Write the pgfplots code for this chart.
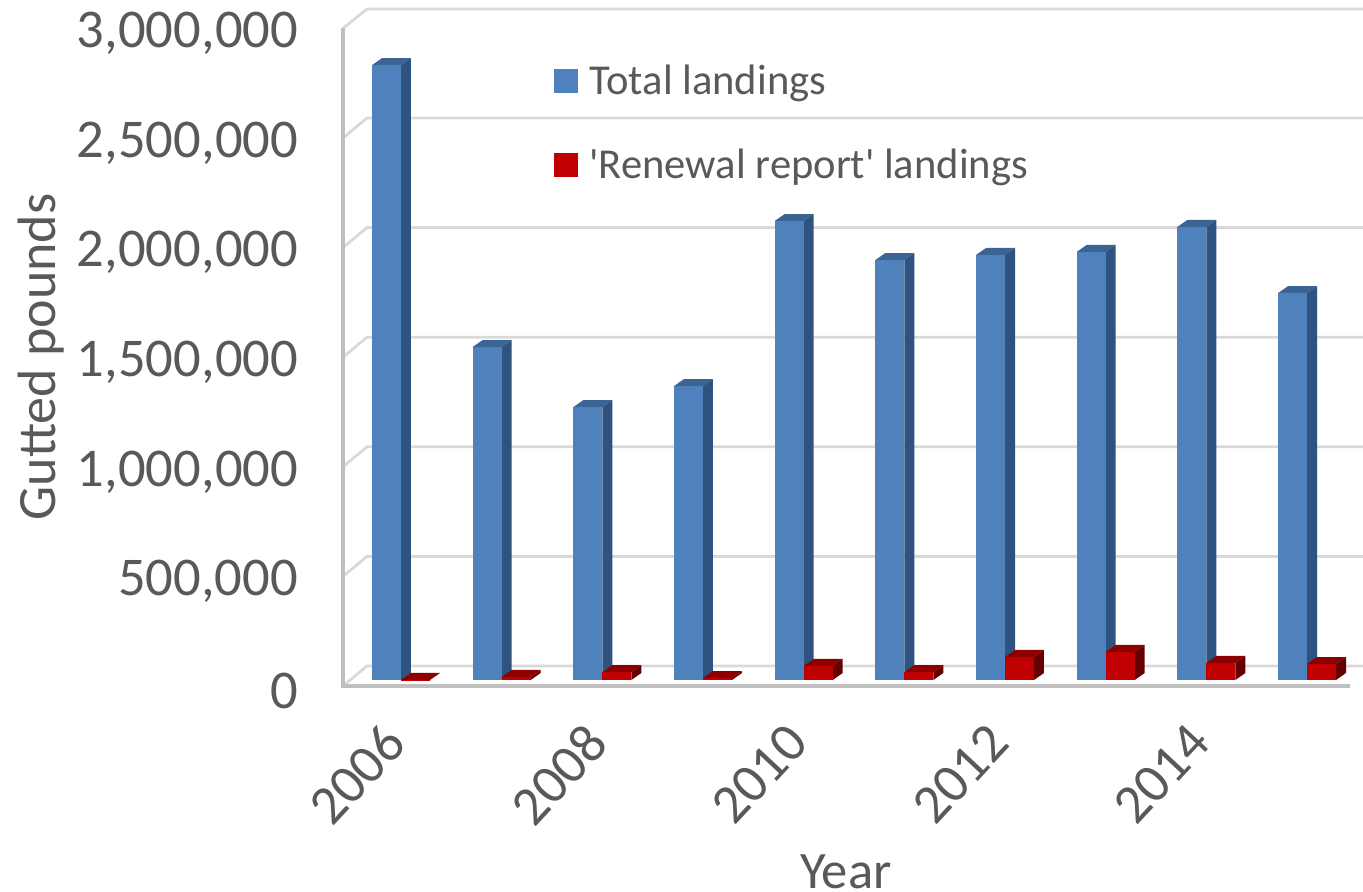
\documentclass[border=0pt]{standalone}
\usepackage{pgfplots}
\usepackage{pgfplotstable}
\usepackage{fontspec}
\setmainfont{Carlito}
\pgfplotsset{compat=1.18}

\definecolor{txt}{HTML}{595959}
\definecolor{wall}{HTML}{D9D9D9}
\definecolor{floorline}{HTML}{BFBFBF}
\definecolor{bluefront}{HTML}{4F81BD}
\definecolor{blueside}{HTML}{2F5380}
\definecolor{bluetop}{HTML}{3B6495}
\definecolor{redfront}{HTML}{C00000}
\definecolor{redside}{HTML}{650000}
\definecolor{redtop}{HTML}{8E0000}

% corners of the box faces: a = across bar, b = up bar, d = into depth
\pgfplotstableread{
a b d
0 0 0
1 0 0
1 1 0
0 1 0
}\frontface
\pgfplotstableread{
a b d
1 0 0
1 1 0
1 1 1
1 0 1
}\sideface
\pgfplotstableread{
a b d
0 1 0
1 1 0
1 1 1
0 1 1
}\topface

\newcommand\barw{0.288}
\newcommand\depx{0.0993}
\newcommand\depy{31934}

% left edge, value, colour prefix
\newcommand\drawbox[3]{%
  \addplot[fill=#3top,draw=none,forget plot] table[x expr=#1+\thisrow{a}*\barw+\thisrow{d}*\depx, y expr=#2*\thisrow{b}+\thisrow{d}*\depy] {\topface};
  \addplot[fill=#3side,draw=none,forget plot] table[x expr=#1+\thisrow{a}*\barw+\thisrow{d}*\depx, y expr=#2*\thisrow{b}+\thisrow{d}*\depy] {\sideface};
  \addplot[fill=#3front,draw=none,forget plot] table[x expr=#1+\thisrow{a}*\barw+\thisrow{d}*\depx, y expr=#2*\thisrow{b}+\thisrow{d}*\depy] {\frontface};
}
% year, total landings, renewal report landings
\newcommand\landings[3]{%
  \drawbox{#1-\barw}{#2}{blue}
  \drawbox{#1}{#3}{red}
}

\begin{document}
\begin{tikzpicture}
\useasboundingbox (0,0) rectangle (681.5pt,445.5pt);
\begin{axis}[
    at={(171.5pt,102.5pt)},
    anchor=south west,
    scale only axis,
    width=510pt,
    height=338.5pt,
    xmin=2005.424, xmax=2015.556,
    ymin=-27372, ymax=3061131,
    clip=false,
    axis line style={draw=none},
    major tick length=0pt,
    xtick={2006,2008,2010,2012,2014},
    xticklabels={2006,2008,2010,2012,2014},
    ytick={-27372,472628,972628,1472628,1972628,2472628,2972628},
    yticklabels={0,{500,000},{1,000,000},{1,500,000},{2,000,000},{2,500,000},{3,000,000}},
    tick label style={text=txt},
    yticklabel style={font=\fontsize{27.3}{27.3}\selectfont,anchor=east,xshift=-19pt,yshift=-2.5pt},
    xticklabel style={font=\fontsize{27.5}{27.5}\selectfont,xshift=-10pt,yshift=-12.5pt,rotate=47,anchor=north east},
    xlabel={Year},
    ylabel={Gutted pounds},
    label style={text=txt},
    xlabel style={font=\fontsize{26.3}{26.3}\selectfont,at={(axis description cs:0.493,-0.275)},anchor=center},
    ylabel style={font=\fontsize{27}{27}\selectfont,at={(axis description cs:-0.296,0.486)},anchor=center},
    legend style={at={(axis description cs:0.206,0.924)},anchor=north west,draw=none,fill=none,
      inner sep=0pt,row sep=21.5pt,font=\fontsize{21.3}{21.3}\selectfont,text=txt},
    legend cell align=left,
    legend image code/.code={\fill[draw=none,#1] (0pt,-6pt) rectangle (12pt,6pt);},
]
% back wall, floor and gridlines
\addplot[wall,line width=1.4pt,unbounded coords=jump,forget plot] coordinates {
  (2005.424,-27372) (2005.662,63869) (2015.556,63869) (2015.556,nan)
  (2005.424,472628) (2005.662,563869) (2015.556,563869) (2015.556,nan)
  (2005.424,972628) (2005.662,1063869) (2015.556,1063869) (2015.556,nan)
  (2005.424,1472628) (2005.662,1563869) (2015.556,1563869) (2015.556,nan)
  (2005.424,1972628) (2005.662,2063869) (2015.556,2063869) (2015.556,nan)
  (2005.424,2472628) (2005.662,2563869) (2015.556,2563869) (2015.556,nan)
  (2005.424,2972628) (2005.662,3061131) (2015.556,3061131)
};
\addplot[floorline,line width=1.6pt,forget plot] coordinates {
  (2005.424,2972628) (2005.424,-27372) (2015.427,-27372)
};
\landings{2006}{2805000}{1000}
\landings{2007}{1519000}{14000}
\landings{2008}{1245000}{36000}
\landings{2009}{1341000}{9000}
\landings{2010}{2094000}{64000}
\landings{2011}{1916000}{36000}
\landings{2012}{1939000}{105000}
\landings{2013}{1953000}{128000}
\landings{2014}{2067000}{78000}
\landings{2015}{1765000}{73000}
\addlegendimage{fill=bluefront}
\addlegendentry{\hspace{4pt}Total landings}
\addlegendimage{fill=redfront}
\addlegendentry{\hspace{4pt}\textquotesingle Renewal report\textquotesingle{} landings}
\end{axis}
\end{tikzpicture}
\end{document}
